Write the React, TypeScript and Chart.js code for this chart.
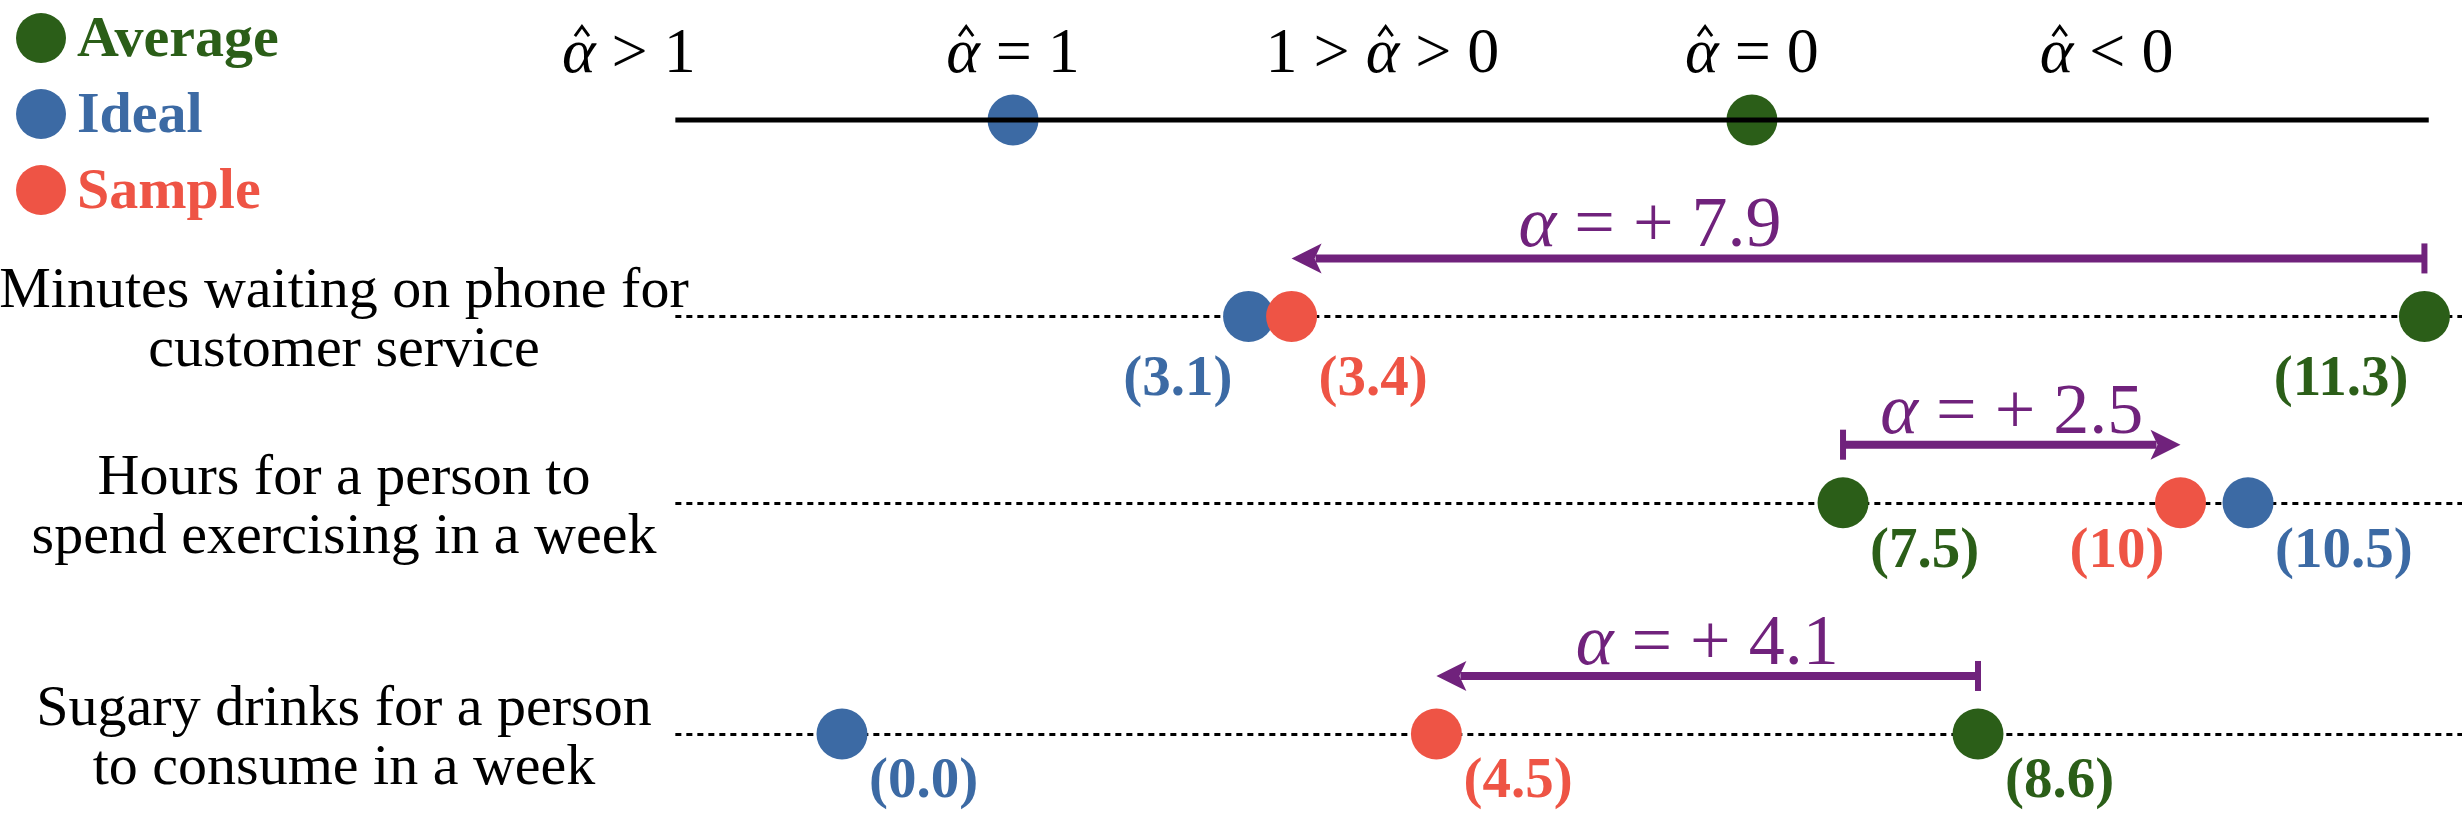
import React, { useEffect, useRef } from 'react';
import { Chart, registerables } from 'chart.js';

Chart.register(...registerables);

const W = 2462;
const H = 814;
const FONT = "'Liberation Serif', 'Times New Roman', 'DejaVu Serif', serif";

// ---------- data ----------
const seriesNames = ['Average', 'Ideal', 'Sample'];
const seriesColors = ['#2B5E18', '#3C6AA4', '#EE5445'];
const purple = '#70227C';

const rowLabels = [
  ['Minutes waiting on phone for', 'customer service'],
  ['Hours for a person to', 'spend exercising in a week'],
  ['Sugary drinks for a person', 'to consume in a week'],
];
const averageValues = [11.3, 7.5, 8.6];
const idealValues = [3.1, 10.5, 0.0];
const sampleValues = [3.4, 10, 4.5];
const averageText = ['(11.3)', '(7.5)', '(8.6)'];
const idealText = ['(3.1)', '(10.5)', '(0.0)'];
const sampleText = ['(3.4)', '(10)', '(4.5)'];
const alphaValues = [7.9, 2.5, 4.1];

const regionLabels = ['α\u0302 > 1', 'α\u0302 = 1', '1 > α\u0302 > 0', 'α\u0302 = 0', 'α\u0302 < 0'];
const regionAt = [1.52, 1, 0.5, 0, -0.48];
const topIdealAt = 1;
const topAverageAt = 0;

// ---------- layout (scale configuration) ----------
const topLevel = 3;
const rowLevels = [2.04, 1.13, 0];
const topAxisSpan = [1.457, -0.916];
const topScaleRange = [-0.961, 2.371];
const rowScaleRanges = [
  [-5.607, 11.562],
  [-6.152, 12.085],
  [-6.374, 12.264],
];
const yRange = [-0.391, 3.586];
const alphaLabelAt = [5.9, 8.75, 6.55];
// label side per row, order [average, ideal, sample]: +1 right, -1 left
const labelSides = [
  [-1, -1, 1],
  [1, 1, -1],
  [1, 1, 1],
];
const labelDrop = [64, 50, 48];
const rowLabelCenterX = 344;
const pointR = 25.5;

type Tok = { t: string; kind: 'up' | 'it' | 'hat' };
function tokenize(text: string): Tok[] {
  const out: Tok[] = [];
  let buf = '';
  for (let i = 0; i < text.length; i++) {
    const c = text[i];
    if (c === 'α') {
      if (buf) {
        out.push({ t: buf, kind: 'up' });
        buf = '';
      }
      const hat = text[i + 1] === '\u0302';
      out.push({ t: 'α', kind: hat ? 'hat' : 'it' });
      if (hat) i++;
    } else buf += c;
  }
  if (buf) out.push({ t: buf, kind: 'up' });
  return out;
}

function drawMath(ctx: CanvasRenderingContext2D, text: string, cx: number, base: number, size: number, color: string) {
  const toks = tokenize(text);
  const up = `${size}px ${FONT}`;
  const it = `italic ${size}px ${FONT}`;
  let total = 0;
  const widths = toks.map((tk) => {
    ctx.font = tk.kind === 'up' ? up : it;
    const w = ctx.measureText(tk.t).width;
    total += w;
    return w;
  });
  let x = cx - total / 2;
  ctx.fillStyle = color;
  ctx.strokeStyle = color;
  ctx.textAlign = 'left';
  ctx.textBaseline = 'alphabetic';
  toks.forEach((tk, k) => {
    ctx.font = tk.kind === 'up' ? up : it;
    ctx.fillText(tk.t, x, base);
    if (tk.kind === 'hat') {
      const hx = x + widths[k] / 2 + size * 0.05;
      ctx.beginPath();
      ctx.moveTo(hx - size * 0.11, base - size * 0.56);
      ctx.lineTo(hx, base - size * 0.71);
      ctx.lineTo(hx + size * 0.11, base - size * 0.56);
      ctx.lineWidth = size * 0.045;
      ctx.lineJoin = 'miter';
      ctx.stroke();
    }
    x += widths[k];
  });
}

const decorPlugin = {
  id: 'decor',
  beforeDatasetsDraw(chart: any) {
    const ctx: CanvasRenderingContext2D = chart.ctx;
    const y = chart.scales.y;
    const xTop = chart.scales.xTop;
    const x0 = xTop.getPixelForValue(topAxisSpan[0]);
    ctx.save();
    ctx.strokeStyle = '#000';
    ctx.lineWidth = 3;
    ctx.setLineDash([6, 5]);
    rowLevels.forEach((lv) => {
      const py = Math.round(y.getPixelForValue(lv)) + 0.5;
      ctx.beginPath();
      ctx.moveTo(x0, py);
      ctx.lineTo(chart.chartArea.right, py);
      ctx.stroke();
    });
    ctx.restore();
  },
  afterDatasetsDraw(chart: any) {
    const ctx: CanvasRenderingContext2D = chart.ctx;
    const y = chart.scales.y;
    const xTop = chart.scales.xTop;
    ctx.save();

    // region labels on top axis
    const topY = y.getPixelForValue(topLevel);
    regionLabels.forEach((lab, k) => {
      drawMath(ctx, lab, xTop.getPixelForValue(regionAt[k]), topY - 48, 64, '#000');
    });

    // rows
    rowLabels.forEach((lines, i) => {
      const py = y.getPixelForValue(rowLevels[i]);
      const xs = chart.scales['r' + i];
      ctx.fillStyle = '#000';
      ctx.font = `58px ${FONT}`;
      ctx.textAlign = 'center';
      ctx.textBaseline = 'alphabetic';
      ctx.fillText(lines[0], rowLabelCenterX, py - 9);
      ctx.fillText(lines[1], rowLabelCenterX, py + 50);

      // value labels
      const vals = [averageValues[i], idealValues[i], sampleValues[i]];
      const texts = [averageText[i], idealText[i], sampleText[i]];
      ctx.font = `bold 57px ${FONT}`;
      ctx.textBaseline = 'middle';
      vals.forEach((v, s) => {
        const px = xs.getPixelForValue(v);
        const side = labelSides[i][s];
        ctx.fillStyle = seriesColors[s];
        if (side > 0) {
          ctx.textAlign = 'left';
          ctx.fillText(texts[s], px + 27, py + labelDrop[i]);
        } else {
          ctx.textAlign = 'right';
          ctx.fillText(texts[s], px - 16, py + labelDrop[i]);
        }
      });

      // alpha arrow from average to sample
      const ay = py - 58;
      const xa = xs.getPixelForValue(averageValues[i]);
      const xb = xs.getPixelForValue(sampleValues[i]);
      const dir = Math.sign(xb - xa);
      ctx.fillStyle = purple;
      ctx.strokeStyle = purple;
      ctx.lineWidth = 8;
      ctx.lineCap = 'butt';
      ctx.beginPath();
      ctx.moveTo(xa, ay);
      ctx.lineTo(xb - dir * 24, ay);
      ctx.stroke();
      ctx.beginPath();
      ctx.moveTo(xb, ay);
      ctx.lineTo(xb - dir * 30, ay - 15);
      ctx.lineTo(xb - dir * 23, ay);
      ctx.lineTo(xb - dir * 30, ay + 15);
      ctx.closePath();
      ctx.fill();
      ctx.fillRect(xa - 3, ay - 15, 6, 30);

      drawMath(ctx, `α = + ${alphaValues[i]}`, xs.getPixelForValue(alphaLabelAt[i]), ay - 12, 72, purple);
    });

    ctx.restore();
  },
  afterDraw(chart: any) {
    const ctx: CanvasRenderingContext2D = chart.ctx;
    ctx.save();
    seriesNames.forEach((name, s) => {
      const cy = 38 + s * 76;
      ctx.fillStyle = seriesColors[s];
      ctx.beginPath();
      ctx.arc(41, cy, 25, 0, Math.PI * 2);
      ctx.fill();
      ctx.font = `bold 58px ${FONT}`;
      ctx.textAlign = 'left';
      ctx.textBaseline = 'alphabetic';
      ctx.fillText(name, 77, cy + 18);
    });
    ctx.restore();
  },
};

export default function App() {
  const ref = useRef<HTMLCanvasElement | null>(null);
  useEffect(() => {
    document.body.style.margin = '0';
    document.body.style.overflow = 'hidden';
    if (!ref.current) return;

    const rowDatasets = rowLabels.map((lines, i) => ({
      type: 'scatter' as const,
      label: lines.join(' '),
      data: [
        { x: averageValues[i], y: rowLevels[i] },
        { x: idealValues[i], y: rowLevels[i] },
        { x: sampleValues[i], y: rowLevels[i] },
      ],
      backgroundColor: seriesColors,
      borderWidth: 0,
      pointBorderWidth: 0,
      pointRadius: pointR,
      xAxisID: 'r' + i,
      yAxisID: 'y',
    }));

    const rowScales: any = {};
    rowScaleRanges.forEach((rg, i) => {
      rowScales['r' + i] = { type: 'linear', axis: 'x', display: false, min: rg[0], max: rg[1], bounds: 'data' };
    });

    const chart = new Chart(ref.current, {
      type: 'scatter',
      data: {
        datasets: [
          {
            type: 'line' as const,
            label: 'α̂ axis',
            data: topAxisSpan.map((v) => ({ x: v, y: topLevel })),
            borderColor: '#000',
            borderWidth: 5,
            pointRadius: 0,
            xAxisID: 'xTop',
            yAxisID: 'y',
          },
          {
            type: 'scatter' as const,
            label: 'α̂ markers',
            data: [
              { x: topIdealAt, y: topLevel },
              { x: topAverageAt, y: topLevel },
            ],
            backgroundColor: [seriesColors[1], seriesColors[0]],
            borderWidth: 0,
            pointBorderWidth: 0,
            pointRadius: pointR,
            xAxisID: 'xTop',
            yAxisID: 'y',
          },
          ...rowDatasets,
        ] as any,
      },
      options: {
        animation: false,
        responsive: false,
        events: [],
        layout: { padding: 0, autoPadding: false },
        plugins: { legend: { display: false }, tooltip: { enabled: false }, title: { display: false } },
        scales: {
          x: { display: false },
          xTop: { type: 'linear', axis: 'x', display: false, reverse: true, min: topScaleRange[0], max: topScaleRange[1], bounds: 'data' },
          ...rowScales,
          y: { type: 'linear', display: false, min: yRange[0], max: yRange[1], bounds: 'data' },
        } as any,
      },
      plugins: [decorPlugin],
    });
    return () => chart.destroy();
  }, []);

  return (
    <div style={{ width: W, height: H, background: '#fff' }}>
      <canvas ref={ref} width={W} height={H} style={{ display: 'block', width: W, height: H }} />
    </div>
  );
}
